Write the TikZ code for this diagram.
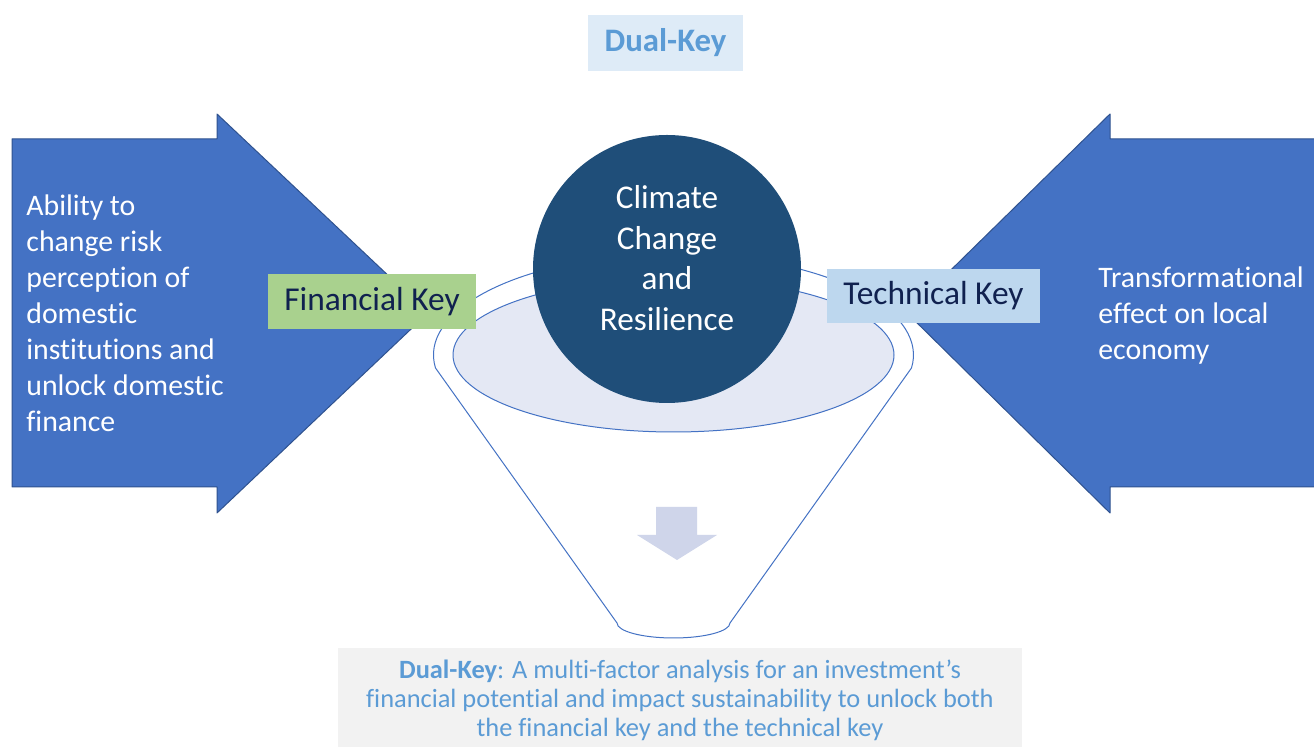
\documentclass[tikz,border=0pt]{standalone}
\usepackage{fontspec}
\setmainfont{Carlito}[Ligatures=NoCommon]
\usetikzlibrary{positioning}
\definecolor{c4472c4}{HTML}{4472C4}
\definecolor{c2f528f}{HTML}{2F528F}
\definecolor{c1f4e79}{HTML}{1F4E79}
\definecolor{ce4e8f4}{HTML}{E4E8F4}
\definecolor{ccfd5ea}{HTML}{CFD5EA}
\definecolor{ca9d18e}{HTML}{A9D18E}
\definecolor{cbdd7ee}{HTML}{BDD7EE}
\definecolor{cdeebf7}{HTML}{DEEBF7}
\definecolor{cf2f2f2}{HTML}{F2F2F2}
\definecolor{c5b9bd5}{HTML}{5B9BD5}
\definecolor{c10214f}{HTML}{10214F}

\begin{document}
\begin{tikzpicture}[line cap=round,line join=round,x=0.5pt,y=0.5pt,
	keybox/.style={inner sep=0pt,text=c10214f,font=\fontsize{16.7}{20}\selectfont},
	sidetext/.style={text=white,align=left,anchor=north west,inner sep=0pt,font=\fontsize{14.9}{18}\selectfont}]
	\clip (0,0) rectangle (1314,-747);
		\fill[color=white] (0,0) rectangle (1314,-747);
	\draw[color=c2f528f,fill=c4472c4,line width=0.5pt] (12,-139) -- (217,-139) -- (217,-114) -- (428,-313) -- (217,-513) -- (217,-487) -- (12,-487) -- cycle;
	\draw[color=c2f528f,fill=c4472c4,line width=0.5pt] (1330,-139) -- (1110,-139) -- (1110,-114) -- (907,-313) -- (1110,-513) -- (1110,-487) -- (1330,-487) -- cycle;
	\draw[color=c4472c4,fill=white,line width=0.5pt] (435.5,-368) arc[start angle=187.4,end angle=-7.4,x radius=240,y radius=101] -- (730,-623) arc[start angle=0,end angle=-180,x radius=56.5,y radius=15] -- cycle;
	\draw[color=c4472c4,fill=ce4e8f4,line width=0.5pt] (673.5,-355) ellipse [x radius=220.5,y radius=77];
	\fill[color=ccfd5ea] (656,-507) -- (697,-507) -- (697,-535) -- (717,-535) -- (677,-560) -- (637,-535) -- (656,-535) -- cycle;
	\node (climate) [circle,fill=c1f4e79,minimum size=134pt,inner sep=0pt] at (667,-269) {};
		\node (climatetext) [text=white,align=center,font=\fontsize{16.6}{20.25}\selectfont] at (667,-258) {Climate\\Change\\and\\Resilience};
	\node (finkey) [keybox,fill=ca9d18e,minimum width=104pt,minimum height=27.5pt] at (372,-301.5) {Financial Key};
	\node (techkey) [keybox,fill=cbdd7ee,minimum width=106.5pt,minimum height=27pt] at (933.5,-296) {Technical Key};
	\node (dualkey) [fill=cdeebf7,text=c5b9bd5,inner sep=0pt,minimum width=77.5pt,minimum height=28pt,font=\fontsize{16.4}{20}\selectfont\bfseries] at (665.5,-43) {Dual-Key};
	\node (fintext) [sidetext] at (26,-194) {Ability to\\change risk\\perception of\\domestic\\institutions and\\unlock domestic\\finance};
	\node (techtext) [sidetext] at (1098,-266) {Transformational\\effect on local\\economy};
		\fill[color=cf2f2f2] (338,-648) rectangle (1022,-760);
	\node (summary) [text=c5b9bd5,align=center,font=\fontsize{13.2}{14.5}\selectfont] at (680,-700) {\textbf{Dual-Key}: A multi-factor analysis for an investment’s\\financial potential and impact sustainability to unlock both\\the financial key and the technical key};
\end{tikzpicture}
\end{document}
